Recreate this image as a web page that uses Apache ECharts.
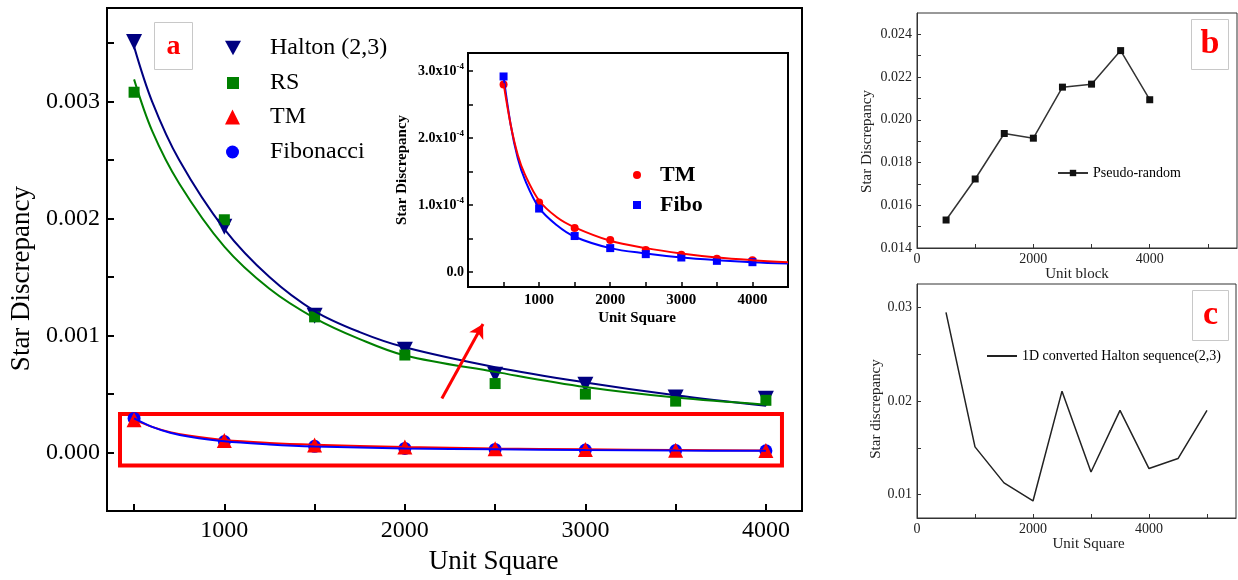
<!DOCTYPE html>
<html><head><meta charset="utf-8">
<script src="https://cdn.jsdelivr.net/npm/echarts@6/dist/echarts.min.js"></script>
<style>html,body{margin:0;padding:0;background:#fff}#c{width:1238px;height:580px}</style>
</head><body><div id="c"></div>
<script>
// ---------- Panel a (main) ----------
const unitSquare = [500, 1000, 1500, 2000, 2500, 3000, 3500, 4000];
const halton = [0.00351, 0.00193, 0.00117, 0.00088, 0.000666, 0.00058, 0.00047, 0.00046];
const rs = [0.00308, 0.00199, 0.00116, 0.000834, 0.00059, 0.0005, 0.00044, 0.000447];
const tm = [2.80e-4, 1.04e-4, 0.66e-4, 0.48e-4, 0.33e-4, 0.26e-4, 0.20e-4, 0.18e-4];
const fibo = [2.92e-4, 0.95e-4, 0.54e-4, 0.36e-4, 0.27e-4, 0.22e-4, 0.17e-4, 0.15e-4];
// fitted curves
const fitX = [500, 600, 750, 1000, 1250, 1500, 1750, 2000, 2500, 3000, 3500, 4000];
const haltonFit = [0.00347, 0.00300, 0.00250, 0.00191, 0.00150, 0.00121, 0.00103, 0.00090, 0.00073, 0.00060, 0.00049, 0.00040];
const rsFit = [0.00319, 0.00275, 0.00230, 0.00176, 0.00140, 0.00115, 0.00097, 0.00083, 0.00069, 0.00056, 0.00047, 0.00041];
const insetFitX = [500, 600, 700, 800, 1000, 1250, 1500, 2000, 2500, 3000, 3500, 4000, 4500];
const tmFit = [2.82e-4, 2.2e-4, 1.75e-4, 1.46e-4, 1.07e-4, 0.82e-4, 0.67e-4, 0.47e-4, 0.36e-4, 0.28e-4, 0.22e-4, 0.18e-4, 0.15e-4];
const fiboFit = [2.92e-4, 2.2e-4, 1.70e-4, 1.38e-4, 0.96e-4, 0.70e-4, 0.53e-4, 0.36e-4, 0.28e-4, 0.22e-4, 0.18e-4, 0.15e-4, 0.13e-4];
const mainXLabels = [1000, 2000, 3000, 4000];
const mainXTicks = [500, 1000, 1500, 2000, 2500, 3000, 3500, 4000];
const mainYLabels = [0, 0.001, 0.002, 0.003];
const mainYTicks = [0, 0.0005, 0.001, 0.0015, 0.002, 0.0025, 0.003, 0.0035];
const insetXLabels = [1000, 2000, 3000, 4000];
const insetXTicks = [500, 1000, 1500, 2000, 2500, 3000, 3500, 4000];
const insetYLabels = [0, 1e-4, 2e-4, 3e-4];
const insetYTicks = [0, 0.5e-4, 1e-4, 1.5e-4, 2e-4, 2.5e-4, 3e-4];
// annotation (data space)
const highlightBox = [[422, 0.00033], [4089, -0.00011]];
const zoomArrow = [[2205, 0.000463], [2433, 0.00110]];

// ---------- Panel b ----------
const unitBlock = [500, 1000, 1500, 2000, 2500, 3000, 3500, 4000];
const pseudoRandom = [0.01531, 0.01723, 0.01936, 0.01914, 0.02153, 0.02167, 0.02324, 0.02094];
const bXLabels = [0, 2000, 4000];
const bXTicks = [0, 1000, 2000, 3000, 4000, 5000];
const bYLabels = [0.014, 0.016, 0.018, 0.020, 0.022, 0.024];
const bYTicks = [0.014, 0.015, 0.016, 0.017, 0.018, 0.019, 0.020, 0.021, 0.022, 0.023, 0.024];

// ---------- Panel c ----------
const unitSquareC = [500, 1000, 1500, 2000, 2500, 3000, 3500, 4000, 4500, 5000];
const halton1D = [0.02947, 0.0151, 0.01125, 0.00932, 0.02105, 0.01242, 0.0190, 0.01278, 0.01385, 0.0190];
const cXLabels = [0, 2000, 4000];
const cXTicks = [0, 1000, 2000, 3000, 4000, 5000];
const cYLabels = [0.01, 0.02, 0.03];
const cYTicks = [0.01, 0.015, 0.02, 0.025, 0.03];

const SERIF = '"Liberation Serif", "Times New Roman", serif';
const DOWN_TRIANGLE = 'path://M0,0 L10,0 L5,9 Z';
const zip = (xs, ys) => xs.map((x, i) => [x, ys[i]]);
const upTo = (xs, ys, lim) => zip(xs, ys).filter(p => p[0] <= lim);
const plain = v => String(v);

const chart = echarts.init(document.getElementById('c'), null, {renderer: 'canvas'});

function axisBase(color, w) {
  return {
    axisLine: {show: true, onZero: false, lineStyle: {color: color, width: w}},
    splitLine: {show: false}
  };
}

function legendItem(name, left, top, size, pad, fs, bold) {
  return {
    data: [name], left: left, top: top, orient: 'vertical', itemWidth: size, itemHeight: size,
    padding: 0, selectedMode: false,
    formatter: n => n.replace(' (inset)', ''),
    textStyle: {fontSize: fs, lineHeight: fs, fontFamily: SERIF, color: '#000', fontWeight: bold ? 'bold' : 'normal', padding: [0, 0, 0, pad]}
  };
}

const fitLine = (name, xi, data, color) => ({
  name: name, type: 'line', xAxisIndex: xi, yAxisIndex: xi, data: data,
  smooth: 0.35, showSymbol: false, symbol: 'none', lineStyle: {color: color, width: 2}, z: xi ? 6 : 4
});

const option = {
  animation: false,
  backgroundColor: '#fff',
  grid: [
    {left: 107, top: 8, width: 695, height: 511, show: true, borderColor: '#000', borderWidth: 2, backgroundColor: 'transparent'},
    {left: 468, top: 53, width: 320, height: 234, show: true, borderColor: '#000', borderWidth: 2, backgroundColor: '#fff', z: 3},
    {left: 917, top: 13, width: 320, height: 235, show: true, borderColor: '#333', borderWidth: 1, backgroundColor: 'transparent'},
    {left: 917, top: 284, width: 319, height: 234, show: true, borderColor: '#333', borderWidth: 1, backgroundColor: 'transparent'}
  ],
  xAxis: [
    Object.assign(axisBase('#000', 2), {
      gridIndex: 0, type: 'value', min: 350, max: 4200,
      axisTick: {show: true, inside: true, length: 7, lineStyle: {color: '#000', width: 2}, customValues: mainXTicks},
      axisLabel: {customValues: mainXLabels, formatter: plain, fontSize: 24, fontFamily: SERIF, color: '#000', margin: 8},
      name: 'Unit Square', nameLocation: 'middle', nameGap: 33,
      nameTextStyle: {fontSize: 27, fontFamily: SERIF, color: '#000', padding: [0, 0, 0, 78]}
    }),
    Object.assign(axisBase('#000', 2), {
      gridIndex: 1, type: 'value', min: 0, max: 4500, z: 4,
      axisTick: {show: true, inside: true, length: 5, lineStyle: {color: '#000', width: 1.5}, customValues: insetXTicks},
      axisLabel: {customValues: insetXLabels, formatter: plain, fontSize: 15, fontWeight: 'bold', fontFamily: SERIF, color: '#000', margin: 6},
      name: 'Unit Square', nameLocation: 'middle', nameGap: 24,
      nameTextStyle: {fontSize: 15, fontWeight: 'bold', fontFamily: SERIF, color: '#000', padding: [0, 0, 0, 18]}
    }),
    Object.assign(axisBase('#333', 1), {
      gridIndex: 2, type: 'value', min: 0, max: 5500,
      axisTick: {show: true, inside: true, length: 4, lineStyle: {color: '#333', width: 1}, customValues: bXTicks},
      axisLabel: {customValues: bXLabels, formatter: plain, fontSize: 14, fontFamily: SERIF, color: '#222', margin: 4},
      name: 'Unit block', nameLocation: 'middle', nameGap: 19,
      nameTextStyle: {fontSize: 15, fontFamily: SERIF, color: '#222'}
    }),
    Object.assign(axisBase('#333', 1), {
      gridIndex: 3, type: 'value', min: 0, max: 5500,
      axisTick: {show: true, inside: true, length: 4, lineStyle: {color: '#333', width: 1}, customValues: cXTicks},
      axisLabel: {customValues: cXLabels, formatter: plain, fontSize: 14, fontFamily: SERIF, color: '#222', margin: 4},
      name: 'Unit Square', nameLocation: 'middle', nameGap: 19,
      nameTextStyle: {fontSize: 15, fontFamily: SERIF, color: '#222', padding: [0, 0, 0, 24]}
    })
  ],
  yAxis: [
    Object.assign(axisBase('#000', 2), {
      gridIndex: 0, type: 'value', min: -0.0005, max: 0.0038,
      axisTick: {show: true, inside: true, length: 7, lineStyle: {color: '#000', width: 2}, customValues: mainYTicks},
      axisLabel: {customValues: mainYLabels, formatter: v => v.toFixed(3), fontSize: 24, fontFamily: SERIF, color: '#000', margin: 7},
      name: 'Star Discrepancy', nameLocation: 'middle', nameGap: 62,
      nameTextStyle: {fontSize: 27, fontFamily: SERIF, color: '#000', padding: [0, 38, 0, 0]}
    }),
    Object.assign(axisBase('#000', 2), {
      gridIndex: 1, type: 'value', min: -0.22e-4, max: 3.27e-4, z: 4,
      axisTick: {show: true, inside: true, length: 5, lineStyle: {color: '#000', width: 1.5}, customValues: insetYTicks},
      axisLabel: {
        customValues: insetYLabels, margin: 4,
        fontSize: 14, fontWeight: 'bold', fontFamily: SERIF, color: '#000',
        formatter: v => Math.abs(v) < 1e-12 ? '0.0' : '{a|' + (v * 1e4).toFixed(1) + 'x10}{s|-4}',
        rich: {
          a: {fontSize: 14, fontWeight: 'bold', fontFamily: SERIF, color: '#000'},
          s: {fontSize: 9, fontWeight: 'bold', fontFamily: SERIF, color: '#000', padding: [0, 0, 9, 0]}
        }
      },
      name: 'Star Discrepancy', nameLocation: 'middle', nameGap: 58,
      nameTextStyle: {fontSize: 15, fontWeight: 'bold', fontFamily: SERIF, color: '#000'}
    }),
    Object.assign(axisBase('#333', 1), {
      gridIndex: 2, type: 'value', min: 0.014, max: 0.025,
      axisTick: {show: true, inside: true, length: 4, lineStyle: {color: '#333', width: 1}, customValues: bYTicks},
      axisLabel: {customValues: bYLabels, formatter: v => v.toFixed(3), fontSize: 14, fontFamily: SERIF, color: '#222', margin: 5},
      name: 'Star Discrepancy', nameLocation: 'middle', nameGap: 42,
      nameTextStyle: {fontSize: 15, fontFamily: SERIF, color: '#222', padding: [0, 22, 0, 0]}
    }),
    Object.assign(axisBase('#333', 1), {
      gridIndex: 3, type: 'value', min: 0.0075, max: 0.0325,
      axisTick: {show: true, inside: true, length: 4, lineStyle: {color: '#333', width: 1}, customValues: cYTicks},
      axisLabel: {customValues: cYLabels, formatter: v => v.toFixed(2), fontSize: 14, fontFamily: SERIF, color: '#222', margin: 5},
      name: 'Star discrepancy', nameLocation: 'middle', nameGap: 33,
      nameTextStyle: {fontSize: 15, fontFamily: SERIF, color: '#222', padding: [0, 16, 0, 0]}
    })
  ],
  legend: [
    Object.assign(legendItem('Halton (2,3)', 225, 36, 16, 24, 24, false),
      {data: [{name: 'Halton (2,3)', icon: DOWN_TRIANGLE}], itemHeight: 15}),
    legendItem('RS', 227, 71, 12, 26, 24, false),
    legendItem('TM', 225, 105, 15, 25, 24, false),
    legendItem('Fibonacci', 226, 140, 13, 26, 24, false),
    legendItem('TM (inset)', 633, 164, 8, 14, 22, true),
    legendItem('Fibo', 633, 194, 8, 14, 22, true),
    Object.assign(legendItem('Pseudo-random', 1057, 166, 14, 0, 14, false), {itemWidth: 30, itemHeight: 8}),
    Object.assign(legendItem('1D converted Halton sequence(2,3)', 987, 349, 14, 0, 14, false),
      {itemWidth: 30, itemHeight: 2, icon: 'rect', itemStyle: {color: '#222'}})
  ],
  series: [
    {name: 'Halton (2,3)', type: 'scatter', xAxisIndex: 0, yAxisIndex: 0, data: zip(unitSquare, halton),
      symbol: 'triangle', symbolRotate: 180, symbolSize: 16, itemStyle: {color: '#000080', opacity: 1}, z: 3},
    {name: 'RS', type: 'scatter', xAxisIndex: 0, yAxisIndex: 0, data: zip(unitSquare, rs),
      symbol: 'rect', symbolSize: 11, itemStyle: {color: '#008000', opacity: 1}, z: 3},
    {name: 'Fibonacci', type: 'scatter', xAxisIndex: 0, yAxisIndex: 0, data: zip(unitSquare, fibo),
      symbol: 'circle', symbolSize: 13, itemStyle: {color: '#0000ff', opacity: 1}, z: 3},
    {name: 'TM', type: 'scatter', xAxisIndex: 0, yAxisIndex: 0, data: zip(unitSquare, tm),
      symbol: 'triangle', symbolSize: 15, itemStyle: {color: '#ff0000', opacity: 1}, z: 3},
    fitLine('Halton fit', 0, zip(fitX, haltonFit), '#000080'),
    fitLine('RS fit', 0, zip(fitX, rsFit), '#008000'),
    fitLine('TM fit', 0, upTo(insetFitX, tmFit, 4000), '#ff0000'),
    Object.assign(fitLine('Fibonacci fit', 0, upTo(insetFitX, fiboFit, 4000), '#0000ff'), {
      markArea: {silent: true, itemStyle: {color: 'rgba(0,0,0,0)', borderColor: '#ff0000', borderWidth: 4},
        data: [[{coord: highlightBox[0]}, {coord: highlightBox[1]}]]},
      markLine: {silent: true, symbol: ['none', 'arrow'], symbolSize: [12, 14], label: {show: false},
        lineStyle: {color: '#ff0000', width: 3, type: 'solid'},
        data: [[{coord: zoomArrow[0]}, {coord: zoomArrow[1]}]]}
    }),

    {name: 'TM (inset)', type: 'scatter', xAxisIndex: 1, yAxisIndex: 1, data: zip(unitSquare, tm),
      symbol: 'circle', symbolSize: 8, itemStyle: {color: '#ff0000', opacity: 1}, z: 5},
    {name: 'Fibo', type: 'scatter', xAxisIndex: 1, yAxisIndex: 1, data: zip(unitSquare, fibo),
      symbol: 'rect', symbolSize: 8, itemStyle: {color: '#0000ff', opacity: 1}, z: 5},
    fitLine('Fibo fit (inset)', 1, zip(insetFitX, fiboFit), '#0000ff'),
    fitLine('TM fit (inset)', 1, zip(insetFitX, tmFit), '#ff0000'),

    {name: 'Pseudo-random', type: 'line', xAxisIndex: 2, yAxisIndex: 2, data: zip(unitBlock, pseudoRandom),
      symbol: 'rect', symbolSize: 7, showSymbol: true, itemStyle: {color: '#111'}, lineStyle: {color: '#333', width: 1.5}},
    {name: '1D converted Halton sequence(2,3)', type: 'line', xAxisIndex: 3, yAxisIndex: 3, data: zip(unitSquareC, halton1D),
      symbol: 'none', showSymbol: false, itemStyle: {color: '#222'}, lineStyle: {color: '#222', width: 1.5}}
  ],
  graphic: [
    {type: 'group', left: 154, top: 22, children: [
      {type: 'rect', shape: {x: 0, y: 0, width: 38, height: 47}, style: {fill: '#fff', stroke: '#c8c8c8', lineWidth: 1}},
      {type: 'text', x: 19, y: 24, style: {text: 'a', font: 'bold 28px "Liberation Serif"', fill: '#ff0000', align: 'center', verticalAlign: 'middle', textAlign: 'center', textVerticalAlign: 'middle'}}
    ]},
    {type: 'group', left: 1191, top: 19, children: [
      {type: 'rect', shape: {x: 0, y: 0, width: 37, height: 50}, style: {fill: '#fff', stroke: '#c8c8c8', lineWidth: 1}},
      {type: 'text', x: 18.5, y: 25, style: {text: 'b', font: 'bold 34px "Liberation Serif"', fill: '#ff0000', align: 'center', verticalAlign: 'middle', textAlign: 'center', textVerticalAlign: 'middle'}}
    ]},
    {type: 'group', left: 1192, top: 290, children: [
      {type: 'rect', shape: {x: 0, y: 0, width: 36, height: 50}, style: {fill: '#fff', stroke: '#c8c8c8', lineWidth: 1}},
      {type: 'text', x: 18, y: 25, style: {text: 'c', font: 'bold 34px "Liberation Serif"', fill: '#ff0000', align: 'center', verticalAlign: 'middle', textAlign: 'center', textVerticalAlign: 'middle'}}
    ]}
  ]
};
chart.setOption(option);
</script>
</body></html>
